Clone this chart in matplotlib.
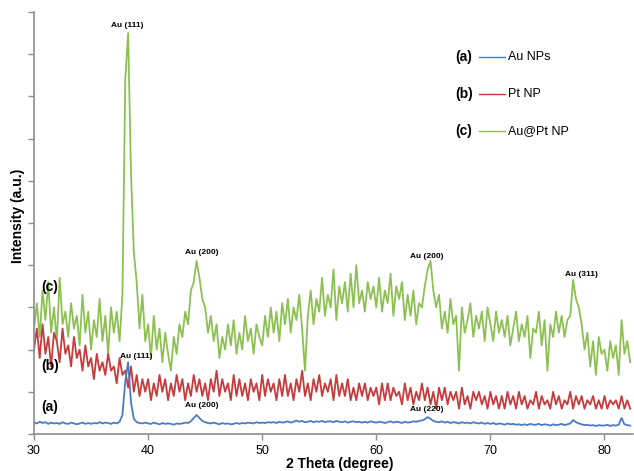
import numpy as np
import matplotlib
matplotlib.use("Agg")
import matplotlib.pyplot as plt
from matplotlib.lines import Line2D

plt.rcParams['font.family'] = ['Liberation Sans', 'DejaVu Sans']

# 2-theta grid (degrees), 0.25 deg step from 30 to 82.25
two_theta = np.arange(30.0, 82.26, 0.25)

# (c) Au@Pt NP
au_pt = [
    2.5, 3.1, 2.3, 3.4,  2.7, 3.6, 2.4, 3.0,  2.2, 3.7, 2.6, 2.9,  2.3, 3.1, 2.5, 2.8,
    2.1, 3.3, 2.4, 2.9,  2.0, 2.7, 2.3, 3.2,  2.2, 2.8, 1.9, 3.0,  2.4, 2.9, 2.2, 3.3,
    8.4, 9.5, 6.2, 4.3,  3.6, 2.5, 3.3, 2.2,  2.6, 1.8, 2.8, 2.0,  2.5, 1.7, 2.4, 1.9,
    1.5, 2.3, 1.9, 2.6,  2.3, 2.9, 2.6, 3.4,  3.6, 4.1, 3.7, 3.2,  3.0, 2.4, 2.8, 2.2,
    2.6, 1.8, 2.3, 2.0,  2.6, 2.1, 2.7, 1.9,  2.4, 2.0, 2.8, 2.2,  2.5, 1.9, 2.6, 2.3,
    2.1, 2.8, 2.3, 3.0,  2.4, 2.9, 2.2, 3.1,  2.6, 3.2, 2.4, 3.0,  2.7, 3.3, 2.5, 1.5,
    2.8, 3.4, 2.6, 3.2,  2.9, 3.7, 2.8, 3.3,  3.0, 3.9, 2.7, 3.5,  3.1, 3.6, 2.9, 3.8,
    3.0, 4.0, 3.1, 3.4,  2.9, 3.6, 3.2, 3.5,  3.0, 3.7, 2.9, 3.4,  3.1, 3.8, 2.8, 3.5,
    3.2, 3.6, 2.7, 3.3,  2.8, 3.4, 2.6, 3.1,  3.0, 3.5, 3.9, 4.1,  3.4, 3.0, 3.3, 2.5,
    2.9, 2.4, 3.2, 2.6,  2.8, 1.5, 3.0, 2.4,  2.7, 3.1, 2.3, 2.8,  2.5, 2.9, 2.2, 3.0,
    2.6, 2.2, 2.9, 2.4,  2.7, 2.3, 2.8, 2.1,  2.5, 2.9, 2.2, 2.6,  2.3, 2.8, 1.8, 2.5,
    2.4, 2.9, 2.1, 2.7,  1.5, 2.6, 2.3, 2.9,  2.4, 2.8, 2.3, 2.7,  2.8, 3.65, 3.2, 3.0,
    2.6, 2.0, 2.4, 1.6,  2.2, 1.4, 2.3, 1.9,  2.0, 1.5, 2.2, 1.8,  2.1, 1.4, 2.7, 1.9,
    2.2, 1.7,
]

# (b) Pt NP
pt = [
    2.0, 2.5, 1.8, 2.6,  1.9, 2.3, 1.6, 2.4,  2.2, 1.7, 2.5, 1.9,  2.1, 1.6, 2.3, 1.8,
    2.0, 1.5, 2.1, 1.6,  1.8, 1.3, 1.9, 1.5,  1.7, 1.4, 1.9, 1.5,  1.6, 1.2, 1.8, 1.4,
    1.5, 1.1, 1.6, 1.0,  1.4, 0.9, 1.3, 1.0,  1.3, 0.8, 1.2, 0.9,  1.4, 1.0, 1.3, 0.8,
    1.2, 0.9, 1.4, 1.0,  1.3, 0.8, 1.2, 0.9,  1.4, 1.0, 1.3, 0.9,  1.2, 0.8, 1.3, 1.0,
    1.5, 0.9, 1.3, 1.0,  1.2, 0.8, 1.4, 0.9,  1.3, 0.9, 1.2, 0.8,  1.3, 1.0, 1.2, 0.8,
    1.4, 0.9, 1.3, 1.0,  1.2, 0.8, 1.3, 0.9,  1.4, 0.9, 1.2, 0.8,  1.3, 1.0, 1.5, 0.9,
    1.2, 0.8, 1.3, 1.0,  1.4, 0.9, 1.2, 1.0,  1.3, 0.8, 1.4, 0.9,  1.2, 0.9, 1.3, 0.8,
    1.1, 0.8, 1.2, 0.9,  1.2, 0.8, 1.1, 0.9,  1.1, 0.7, 1.2, 0.8,  1.2, 0.8, 1.1, 0.9,
    1.0, 0.7, 1.2, 0.8,  1.1, 0.7, 1.0, 0.8,  1.2, 0.8, 1.1, 0.7,  1.0, 0.6, 1.1, 0.8,
    1.1, 0.7, 1.0, 0.8,  1.0, 0.6, 1.1, 0.7,  0.9, 0.6, 1.0, 0.8,  1.0, 0.7, 0.9, 0.6,
    1.0, 0.7, 0.9, 0.6,  0.9, 0.6, 1.0, 0.7,  0.9, 0.6, 1.0, 0.7,  0.9, 0.6, 0.8, 0.7,
    1.0, 0.6, 0.9, 0.7,  0.8, 0.6, 1.0, 0.7,  0.9, 0.6, 0.8, 0.7,  1.0, 0.6, 0.9, 0.7,
    0.9, 0.6, 0.8, 0.7,  0.9, 0.6, 0.8, 0.6,  0.9, 0.6, 0.8, 0.7,  0.8, 0.6, 0.9, 0.6,
    0.8, 0.6,
]

# (a) Au NPs
au = [
    0.27, 0.25, 0.29, 0.26,  0.28, 0.24, 0.27, 0.25,  0.26, 0.24, 0.28, 0.25,  0.24, 0.27, 0.25, 0.23,
    0.25, 0.27, 0.24, 0.26,  0.24, 0.26, 0.25, 0.28,  0.25, 0.27, 0.26, 0.24,  0.27, 0.25, 0.29, 0.45,
    1.25, 1.70, 0.75, 0.36,  0.28, 0.26, 0.25, 0.27,  0.25, 0.24, 0.27, 0.25,  0.23, 0.26, 0.24, 0.25,
    0.24, 0.22, 0.25, 0.24,  0.25, 0.27, 0.26, 0.30,  0.38, 0.45, 0.38, 0.31,  0.28, 0.26, 0.25, 0.27,
    0.25, 0.23, 0.26, 0.24,  0.25, 0.23, 0.24, 0.26,  0.24, 0.26, 0.25, 0.27,  0.26, 0.25, 0.28, 0.26,
    0.27, 0.26, 0.28, 0.27,  0.28, 0.26, 0.29, 0.27,  0.28, 0.30, 0.27, 0.29,  0.32, 0.29, 0.31, 0.28,
    0.29, 0.31, 0.28, 0.30,  0.29, 0.31, 0.28, 0.30,  0.30, 0.28, 0.31, 0.29,  0.28, 0.30, 0.27, 0.29,
    0.30, 0.28, 0.29, 0.27,  0.29, 0.27, 0.30, 0.28,  0.27, 0.29, 0.28, 0.26,  0.28, 0.30, 0.27, 0.29,
    0.28, 0.26, 0.29, 0.27,  0.28, 0.30, 0.29, 0.31,  0.32, 0.35, 0.40, 0.36,  0.31, 0.29, 0.28, 0.30,
    0.27, 0.29, 0.26, 0.28,  0.27, 0.25, 0.28, 0.26,  0.27, 0.25, 0.28, 0.26,  0.25, 0.27, 0.24, 0.26,
    0.24, 0.26, 0.23, 0.25,  0.24, 0.22, 0.25, 0.23,  0.24, 0.22, 0.23, 0.21,  0.23, 0.21, 0.24, 0.22,
    0.22, 0.24, 0.21, 0.23,  0.22, 0.20, 0.23, 0.21,  0.22, 0.24, 0.21, 0.23,  0.25, 0.33, 0.28, 0.25,
    0.23, 0.21, 0.22, 0.20,  0.21, 0.19, 0.21, 0.20,  0.20, 0.22, 0.19, 0.21,  0.20, 0.22, 0.38, 0.23,
    0.21, 0.20,
]

series_names = ["Au NPs", "Pt NP", "Au@Pt NP"]
series_tags = ["(a)", "(b)", "(c)"]
colors = ["#4a7bc4", "#c93a3c", "#8cc152"]

x_ticks = [30, 40, 50, 60, 70, 80]

# peak labels: (text, 2theta, intensity)
peak_labels = [
    ("Au (111)", 38.15, 9.69),
    ("Au (200)", 44.7, 4.31),
    ("Au (200)", 64.45, 4.2),
    ("Au (311)", 78.0, 3.79),
    ("Au (111)", 39.0, 1.83),
    ("Au (200)", 44.7, 0.67),
    ("Au (220)", 64.45, 0.59),
]
curve_tags = [("(c)", 31.35, 3.48), ("(b)", 31.4, 1.6), ("(a)", 31.35, 0.65)]

W, H = 634, 471
fig = plt.figure(figsize=(W / 100, H / 100), dpi=100)
ax_left, ax_right, ax_top, ax_bot = 34, 633, 12, 434
ax = fig.add_axes([ax_left / W, 1 - ax_bot / H, (ax_right - ax_left) / W, (ax_bot - ax_top) / H])

ax.plot(two_theta, au_pt, color=colors[2], lw=1.3)
ax.plot(two_theta, pt, color=colors[1], lw=1.3)
ax.plot(two_theta, au, color=colors[0], lw=1.3)

ax.set_xlim(30, 82.5)
ax.set_ylim(0, 10)
ax.set_xticks(x_ticks)
ax.set_yticks(np.arange(0, 11, 1))
ax.set_yticklabels([])
ax.tick_params(axis='y', direction='out', length=4, width=1, color='#8c8c8c')
ax.tick_params(axis='x', direction='out', length=4, width=1, color='#8c8c8c', labelsize=9, pad=4)
for s in ['top', 'right']:
    ax.spines[s].set_visible(False)
for s in ['left', 'bottom']:
    ax.spines[s].set_color('#8c8c8c')
    ax.spines[s].set_linewidth(1.2)

aw = ax_right - ax_left
ah = ax_bot - ax_top
ax.set_xlabel("2 Theta (degree)", fontsize=10, fontweight='bold', va='center')
ax.xaxis.set_label_coords((340 - ax_left) / aw, (ax_bot - 464) / ah)
ax.set_ylabel("Intensity (a.u.)", fontsize=10, fontweight='bold', va='center')
ax.yaxis.set_label_coords((18 - ax_left) / aw, (ax_bot - 216) / ah)

for t, xx, yy in peak_labels:
    ax.text(xx, yy, t, fontsize=6, fontweight='bold', ha='center', va='center')
for t, xx, yy in curve_tags:
    ax.text(xx, yy, t, fontsize=10, fontweight='bold', ha='center', va='center')

# legend (manual)
leg_y = [57, 94, 131]
for i in range(3):
    yf = 1 - leg_y[i] / H
    fig.text(464 / W, yf, series_tags[i], fontsize=10, fontweight='bold', ha='center', va='center')
    fig.add_artist(Line2D([479 / W, 505 / W], [yf, yf], color=colors[i], lw=1.0, transform=fig.transFigure))
    fig.text(508 / W, yf, series_names[i], fontsize=9, ha='left', va='center')

fig.savefig("out.png", dpi=100)
